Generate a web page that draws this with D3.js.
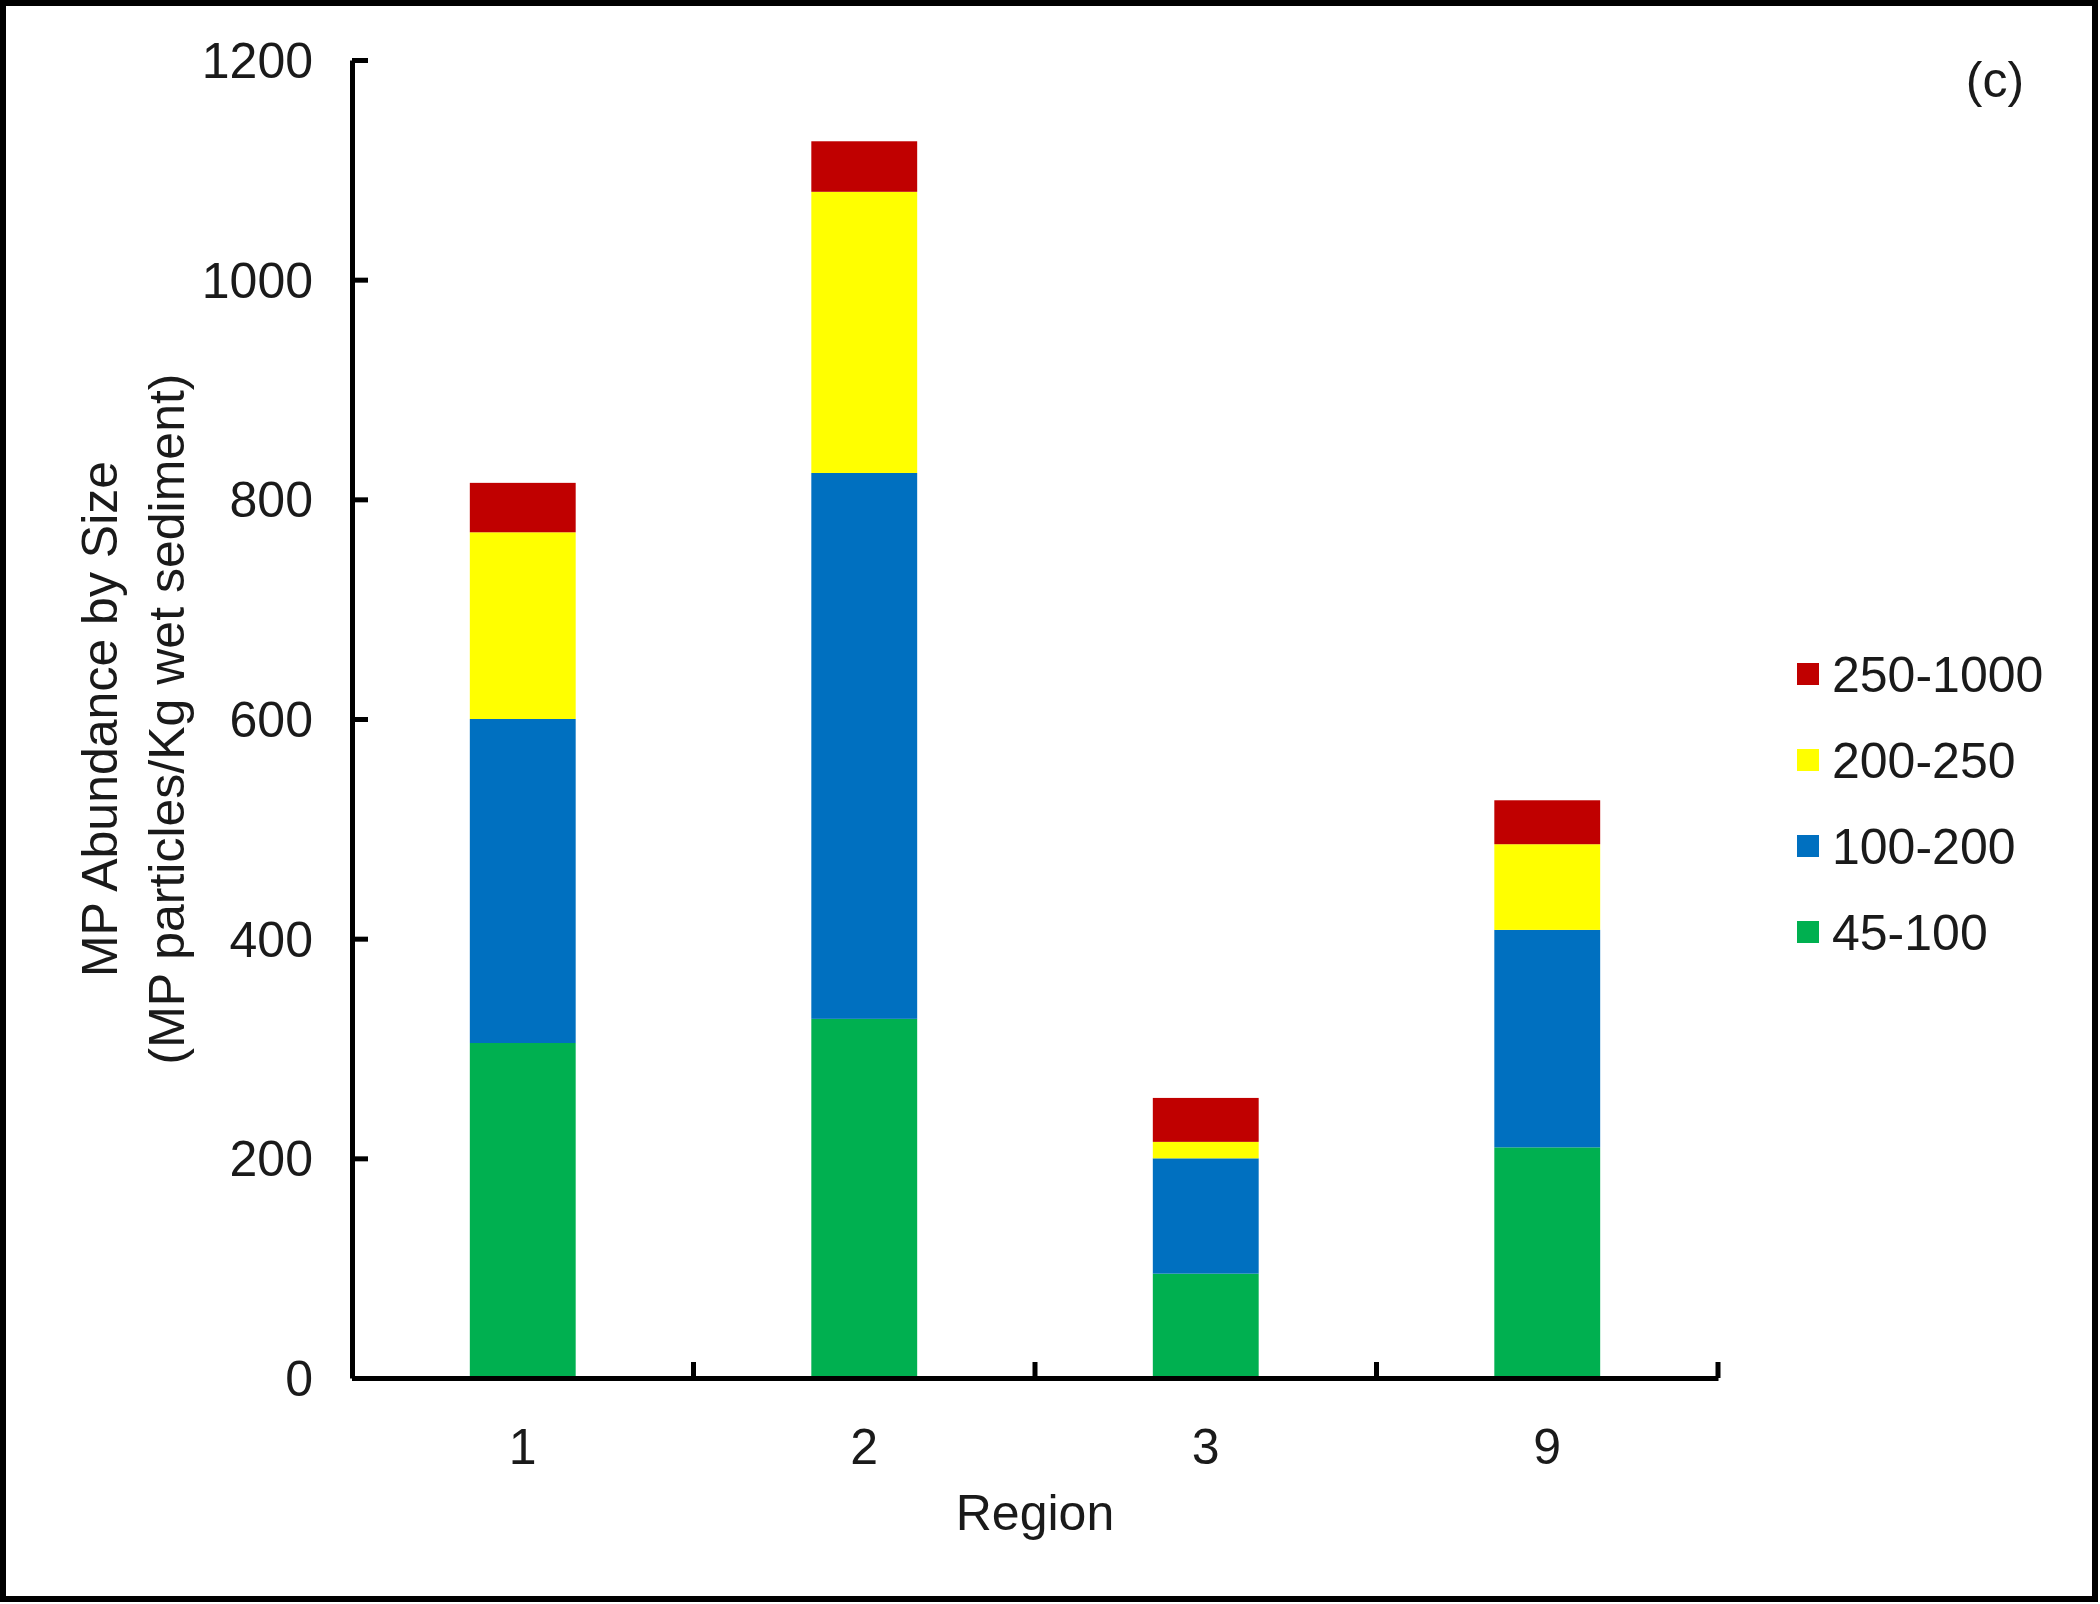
<!DOCTYPE html>
<html><head><meta charset="utf-8">
<script src="https://cdn.jsdelivr.net/npm/d3@7"></script>
<style>body{margin:0;background:#fff}svg{display:block}text{font-family:"Liberation Sans",Arial,sans-serif;fill:#1a1a1a}</style>
</head><body><svg id="c" width="2100" height="1604"></svg>
<script>
const regions = ["1", "2", "3", "9"];
const sizeClasses = ["45-100", "100-200", "200-250", "250-1000"];
const s45_100 = [305, 327, 95, 210];
const s100_200 = [295, 497, 105, 198];
const s200_250 = [170, 256, 15, 78];
const s250_1000 = [45, 46, 40, 40];
const colors = ["#00B050", "#0070C0", "#FFFF00", "#C00000"];
const yTicks = [0, 200, 400, 600, 800, 1000, 1200];

const FS = 50;
const SW = 5;
const svg = d3.select("#c");
const W = 2100, H = 1604;
svg.append("rect").attr("x", 3).attr("y", 3).attr("width", W - 8).attr("height", H - 8)
  .attr("fill", "#fff").attr("stroke", "#000").attr("stroke-width", 6);

const x0 = 352, x1 = 1718, y0 = 1378, y1 = 60;
const x = d3.scaleBand().domain(regions).range([x0, x1]).paddingInner(0).paddingOuter(0);
const y = d3.scaleLinear().domain([0, 1200]).range([y0, y1]);

const rows = regions.map((r, i) => ({region: r, "45-100": s45_100[i], "100-200": s100_200[i], "200-250": s200_250[i], "250-1000": s250_1000[i]}));
const stack = d3.stack().keys(sizeClasses)(rows);
const barW = x.bandwidth() * 0.31;
stack.forEach((layer, li) => {
  svg.append("g").selectAll("rect").data(layer).join("rect")
    .attr("x", d => x(d.data.region) + x.bandwidth() / 2 - barW / 2)
    .attr("width", barW)
    .attr("y", d => y(d[1]))
    .attr("height", d => y(d[0]) - y(d[1]))
    .attr("fill", colors[li]);
});

// Y axis
const yAxis = svg.append("g").attr("transform", `translate(${x0},0)`)
  .call(d3.axisLeft(y).tickValues(yTicks).tickSizeInner(-16).tickSizeOuter(0).tickPadding(39).tickFormat(d3.format("d")));
yAxis.select(".domain").attr("stroke", "#000").attr("stroke-width", SW);
yAxis.selectAll(".tick line").attr("stroke", "#000").attr("stroke-width", SW);
yAxis.selectAll(".tick text").attr("font-size", FS).attr("dy", "0.35em").style("font-family", '"Liberation Sans",Arial,sans-serif').attr("fill", "#1a1a1a");

// X axis
const xAxis = svg.append("g").attr("transform", `translate(0,${y0})`)
  .call(d3.axisBottom(x).tickSize(0).tickPadding(50));
xAxis.select(".domain").attr("stroke", "#000").attr("stroke-width", SW);
xAxis.selectAll(".tick text").attr("font-size", FS).style("font-family", '"Liberation Sans",Arial,sans-serif').attr("fill", "#1a1a1a");
// boundary ticks pointing inward
const bounds = regions.map(r => x(r) + x.bandwidth());
svg.append("g").selectAll("line").data(bounds).join("line")
  .attr("x1", d => d).attr("x2", d => d).attr("y1", y0).attr("y2", y0 - 16)
  .attr("stroke", "#000").attr("stroke-width", SW);

// axis titles
svg.append("text").attr("x", (x0 + x1) / 2).attr("y", 1530).attr("text-anchor", "middle").attr("font-size", FS).text("Region");
const yt = svg.append("text").attr("transform", "translate(0,719) rotate(-90)").attr("text-anchor", "middle").attr("font-size", FS);
yt.append("tspan").attr("x", 0).attr("y", 117).text("MP Abundance by Size");
yt.append("tspan").attr("x", 0).attr("y", 184).text("(MP particles/Kg wet sediment)");

// panel label
svg.append("text").attr("x", 1995).attr("y", 97).attr("text-anchor", "middle").attr("font-size", FS).text("(c)");

// legend (top to bottom: reverse order)
const legendItems = sizeClasses.map((k, i) => ({k, c: colors[i]})).reverse();
const lg = svg.append("g").selectAll("g").data(legendItems).join("g")
  .attr("transform", (d, i) => `translate(1797,${674 + i * 86})`);
lg.append("rect").attr("x", 0).attr("y", -11).attr("width", 22).attr("height", 22).attr("fill", d => d.c);
lg.append("text").attr("x", 35).attr("y", 0).attr("dy", "0.36em").attr("font-size", FS).text(d => d.k);
</script></body></html>
